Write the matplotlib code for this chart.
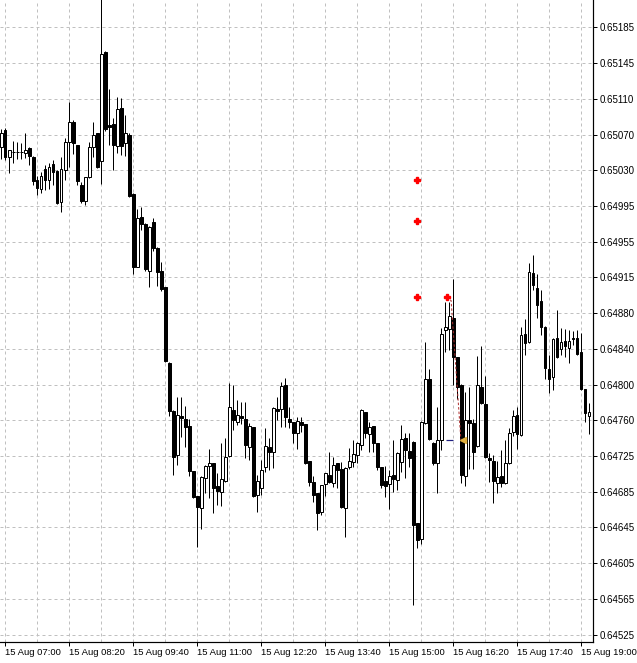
import numpy as np
import pandas as pd
import matplotlib
matplotlib.use("Agg")
import matplotlib.pyplot as plt

# M5 candles, 15 Aug
opens = [0.65055, 0.65073, 0.65044, 0.65049, 0.65050, 0.65049, 0.65048, 0.65054, 0.65044, 0.65019,
         0.65009, 0.65031, 0.65019, 0.65036, 0.65029, 0.64995, 0.65030, 0.65060, 0.65082, 0.65057,
         0.65014, 0.64996, 0.65022, 0.65055, 0.65070, 0.65040, 0.65158, 0.65079, 0.65080, 0.65056,
         0.65097, 0.65059, 0.65068, 0.65004, 0.64925, 0.64979, 0.64971, 0.64920, 0.64973, 0.64945,
         0.64920, 0.64903, 0.64820, 0.64768, 0.64720, 0.64763, 0.64759, 0.64752, 0.64703, 0.64676,
         0.64663, 0.64695, 0.64708, 0.64712, 0.64686, 0.64680, 0.64692, 0.64719, 0.64769, 0.64756,
         0.64763, 0.64759, 0.64729, 0.64751, 0.64677, 0.64684, 0.64707, 0.64729, 0.64723, 0.64770,
         0.64770, 0.64796, 0.64759, 0.64756, 0.64744, 0.64756, 0.64754, 0.64714, 0.64691, 0.64679,
         0.64658, 0.64689, 0.64698, 0.64690, 0.64712, 0.64705, 0.64663, 0.64707, 0.64713, 0.64720,
         0.64731, 0.64767, 0.64743, 0.64752, 0.64733, 0.64707, 0.64692, 0.64689, 0.64698, 0.64693,
         0.64713, 0.64739, 0.64725, 0.64734, 0.64646, 0.64629, 0.64755, 0.64803, 0.64733, 0.64712,
         0.64736, 0.64856, 0.64857, 0.64869, 0.64827, 0.64796, 0.64697, 0.64758, 0.64755, 0.64730,
         0.64794, 0.64776, 0.64717, 0.64714, 0.64690, 0.64697, 0.64690, 0.64711, 0.64745, 0.64764,
         0.64742, 0.64852, 0.64843, 0.64918, 0.64902, 0.64888, 0.64859, 0.64814, 0.64805, 0.64847,
         0.64835, 0.64844, 0.64837, 0.64847, 0.64847, 0.64832, 0.64792, 0.64763]
highs = [0.65074, 0.65076, 0.65052, 0.65061, 0.65060, 0.65059, 0.65070, 0.65055, 0.65045, 0.65023,
         0.65028, 0.65035, 0.65038, 0.65041, 0.65030, 0.65044, 0.65065, 0.65104, 0.65084, 0.65057,
         0.65017, 0.65022, 0.65060, 0.65082, 0.65070, 0.65225, 0.65159, 0.65118, 0.65087, 0.65109,
         0.65108, 0.65090, 0.65070, 0.65005, 0.64988, 0.64990, 0.64972, 0.64969, 0.64978, 0.64946,
         0.64930, 0.64903, 0.64821, 0.64769, 0.64783, 0.64783, 0.64774, 0.64759, 0.64703, 0.64676,
         0.64697, 0.64709, 0.64727, 0.64712, 0.64701, 0.64733, 0.64739, 0.64798, 0.64796, 0.64780,
         0.64778, 0.64778, 0.64755, 0.64751, 0.64698, 0.64715, 0.64750, 0.64739, 0.64772, 0.64783,
         0.64800, 0.64804, 0.64772, 0.64756, 0.64762, 0.64762, 0.64754, 0.64714, 0.64697, 0.64679,
         0.64688, 0.64701, 0.64724, 0.64718, 0.64712, 0.64713, 0.64707, 0.64728, 0.64736, 0.64734,
         0.64770, 0.64767, 0.64756, 0.64752, 0.64733, 0.64707, 0.64708, 0.64704, 0.64737, 0.64723,
         0.64753, 0.64744, 0.64744, 0.64735, 0.64646, 0.64757, 0.64843, 0.64814, 0.64734, 0.64772,
         0.64858, 0.64886, 0.64886, 0.64911, 0.64827, 0.64797, 0.64789, 0.64794, 0.64759, 0.64828,
         0.64839, 0.64806, 0.64722, 0.64720, 0.64714, 0.64726, 0.64737, 0.64750, 0.64769, 0.64772,
         0.64859, 0.64868, 0.64929, 0.64938, 0.64917, 0.64900, 0.64860, 0.64829, 0.64847, 0.64878,
         0.64858, 0.64857, 0.64856, 0.64855, 0.64856, 0.64853, 0.64792, 0.64777]
lows = [0.65042, 0.65041, 0.65027, 0.65038, 0.65042, 0.65042, 0.65043, 0.65035, 0.65014, 0.65003,
        0.65005, 0.65008, 0.65009, 0.65014, 0.64993, 0.64984, 0.65019, 0.65033, 0.65047, 0.65014,
        0.64994, 0.64992, 0.65021, 0.65044, 0.65032, 0.65015, 0.65072, 0.65057, 0.65030, 0.65048,
        0.65046, 0.65045, 0.65001, 0.64917, 0.64924, 0.64965, 0.64920, 0.64903, 0.64942, 0.64904,
        0.64898, 0.64821, 0.64763, 0.64698, 0.64709, 0.64740, 0.64729, 0.64697, 0.64674, 0.64620,
        0.64640, 0.64679, 0.64674, 0.64657, 0.64666, 0.64665, 0.64691, 0.64718, 0.64747, 0.64753,
        0.64754, 0.64717, 0.64715, 0.64675, 0.64658, 0.64677, 0.64702, 0.64704, 0.64706, 0.64758,
        0.64751, 0.64751, 0.64750, 0.64733, 0.64727, 0.64745, 0.64710, 0.64687, 0.64669, 0.64639,
        0.64655, 0.64676, 0.64690, 0.64685, 0.64684, 0.64663, 0.64631, 0.64705, 0.64707, 0.64712,
        0.64726, 0.64739, 0.64724, 0.64724, 0.64704, 0.64684, 0.64675, 0.64661, 0.64680, 0.64682,
        0.64702, 0.64695, 0.64707, 0.64557, 0.64619, 0.64624, 0.64754, 0.64737, 0.64709, 0.64679,
        0.64726, 0.64832, 0.64834, 0.64796, 0.64781, 0.64690, 0.64687, 0.64705, 0.64705, 0.64729,
        0.64776, 0.64717, 0.64691, 0.64668, 0.64679, 0.64685, 0.64689, 0.64710, 0.64741, 0.64727,
        0.64741, 0.64829, 0.64842, 0.64900, 0.64869, 0.64851, 0.64803, 0.64788, 0.64791, 0.64826,
        0.64829, 0.64827, 0.64820, 0.64840, 0.64829, 0.64791, 0.64756, 0.64743]
closes = [0.65070, 0.65044, 0.65052, 0.65050, 0.65049, 0.65050, 0.65052, 0.65045, 0.65018, 0.65010,
          0.65023, 0.65019, 0.65033, 0.65028, 0.64994, 0.65031, 0.65060, 0.65082, 0.65059, 0.65018,
          0.64996, 0.65022, 0.65055, 0.65068, 0.65033, 0.65156, 0.65074, 0.65077, 0.65057, 0.65096,
          0.65056, 0.65070, 0.65002, 0.64925, 0.64978, 0.64971, 0.64922, 0.64968, 0.64945, 0.64919,
          0.64901, 0.64822, 0.64768, 0.64718, 0.64764, 0.64760, 0.64751, 0.64703, 0.64675, 0.64664,
          0.64696, 0.64708, 0.64712, 0.64684, 0.64681, 0.64694, 0.64718, 0.64772, 0.64758, 0.64764,
          0.64760, 0.64731, 0.64752, 0.64676, 0.64692, 0.64704, 0.64730, 0.64723, 0.64771, 0.64768,
          0.64795, 0.64762, 0.64756, 0.64744, 0.64757, 0.64753, 0.64712, 0.64691, 0.64677, 0.64657,
          0.64688, 0.64701, 0.64691, 0.64709, 0.64704, 0.64664, 0.64706, 0.64714, 0.64721, 0.64733,
          0.64769, 0.64744, 0.64751, 0.64733, 0.64707, 0.64688, 0.64687, 0.64697, 0.64694, 0.64722,
          0.64738, 0.64726, 0.64717, 0.64644, 0.64628, 0.64756, 0.64803, 0.64738, 0.64712, 0.64736,
          0.64852, 0.64859, 0.64871, 0.64827, 0.64794, 0.64698, 0.64758, 0.64755, 0.64724, 0.64796,
          0.64777, 0.64718, 0.64715, 0.64692, 0.64696, 0.64690, 0.64711, 0.64744, 0.64763, 0.64743,
          0.64851, 0.64842, 0.64919, 0.64905, 0.64883, 0.64859, 0.64815, 0.64803, 0.64846, 0.64827,
          0.64843, 0.64839, 0.64844, 0.64846, 0.64830, 0.64792, 0.64766, 0.64767]

y_labels = ["0.65185", "0.65145", "0.65110", "0.65070", "0.65030", "0.64995", "0.64955",
            "0.64915", "0.64880", "0.64840", "0.64800", "0.64760", "0.64725", "0.64685",
            "0.64645", "0.64605", "0.64565", "0.64525"]

bar_times = pd.date_range("2023-08-15 06:55", periods=len(opens), freq="5min")

# order arrows and the closed trade
pending_bar = 104
pending_prices = [0.65019, 0.64975, 0.64892]
entry_bar, entry_price = 111.35, 0.64892
exit_bar, exit_price = 115.3, 0.64737

PX = 0.72  # one pixel in points at 100 dpi

fig = plt.figure(figsize=(6.37, 6.63), dpi=100)
ax = fig.add_axes([0, 21 / 663, 593 / 637, 642 / 663])

x = np.arange(len(opens))
o = np.array(opens)
h = np.array(highs)
l = np.array(lows)
c = np.array(closes)
up = c >= o

ax.vlines(x, l, h, color="black", lw=PX, zorder=2)
ax.bar(x, c - o, bottom=o, width=0.6, color=np.where(up, "white", "black"),
       edgecolor="black", lw=PX, zorder=3)

# trade marks
ax.plot([pending_bar] * len(pending_prices), pending_prices, ls="none", marker="P",
        ms=5, color="red", mec="red", zorder=5)
ax.plot(entry_bar, entry_price, ls="none", marker="P", ms=5, color="red", zorder=5)
ax.plot([entry_bar, entry_bar + 1.1, exit_bar - 0.4], [entry_price, entry_price - 0.00004, exit_price],
        ls=(0, (2.5, 2)), color="#b03030", lw=PX, zorder=4)
ax.hlines(exit_price, 111.2, 113, color="#202080", lw=1.2 * PX, zorder=4)
ax.plot(exit_bar, exit_price, ls="none", marker="<", ms=5, color="#e0b040", zorder=5)

ax.set_xlim(-0.325, 147.925)
ax.set_ylim(0.645170, 0.652147)

ax.set_yticks(np.linspace(0.65185, 0.64525, len(y_labels)))
ax.set_yticklabels(y_labels, family="Liberation Sans", fontsize=7)
ax.yaxis.tick_right()

major = x[1::16]
ax.set_xticks(major)
ax.set_xticklabels([t.strftime("%d %b %H:%M") for t in bar_times[major]],
                   family="Liberation Sans", fontsize=6.8, ha="left")
ax.set_xticks(x[9::16], minor=True)

ax.tick_params(axis="both", which="major", length=3, width=PX, color="black", pad=1.5)
ax.tick_params(axis="x", which="minor", length=0)
ax.grid(True, which="both", color="#c0c0c0", ls=(0, (3, 3)), lw=PX)
ax.set_axisbelow(True)

for side in ["left", "top"]:
    ax.spines[side].set_visible(False)
for side in ["right", "bottom"]:
    ax.spines[side].set_linewidth(PX * 1.2)

fig.savefig("out.png", dpi=100)
